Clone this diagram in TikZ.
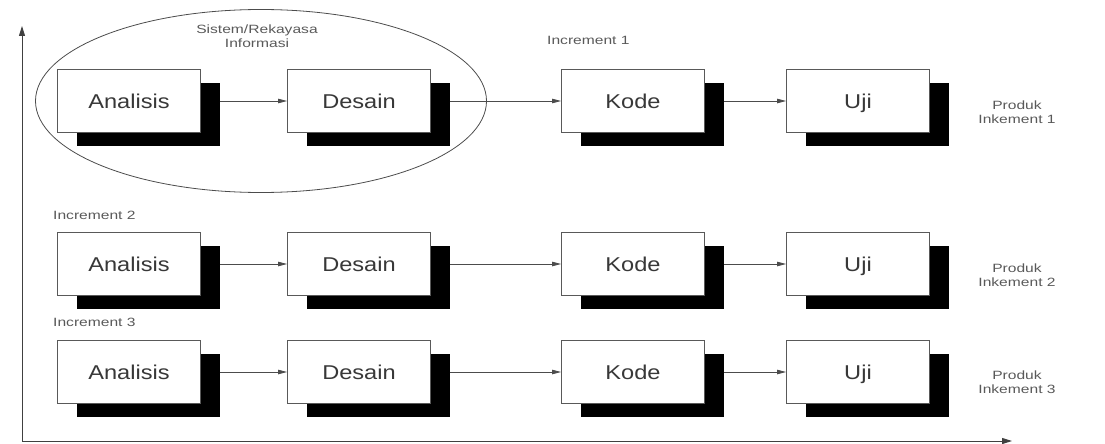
\documentclass[tikz,border=0pt]{standalone}
\usepackage{fontspec}
\setmainfont{Liberation Sans}
\newfontfamily\boxfont[FakeStretch=1.18]{Liberation Sans}
\newfontfamily\notefont[FakeStretch=1.3]{Liberation Sans}
\usetikzlibrary{arrows.meta,shadows,shapes.geometric}
\begin{document}
\begin{tikzpicture}[x=1pt,y=-1pt,
  stagebox/.style={draw=black!65,line width=0.9pt,fill=white,
    minimum width=143pt,minimum height=63pt,inner sep=0pt,
    text height=14.5pt,text depth=0pt,
    font=\boxfont\fontsize{20}{22}\selectfont,text=black!78,
    drop shadow={shadow xshift=19pt,shadow yshift=-13pt,fill=black,opacity=1}},
  smalltext/.style={font=\notefont\fontsize{12}{13.5}\selectfont,text=black!65,align=center,inner sep=0pt},
  flow/.style={draw=black!70,line width=0.8pt,-{Triangle[length=9pt,width=4.5pt]}},
  axis/.style={draw=black!75,line width=1pt,-{Triangle[length=10pt,width=6pt]}}]
\useasboundingbox (0,0) rectangle (1105,444);

% axes
\coordinate (origin) at (22,441);
\coordinate (ytop) at (22,26);
\coordinate (xend) at (1012,441);
\draw[axis] (origin) -- (ytop);
\draw[axis] (origin) -- (xend);

% system/information engineering region
\node[draw=black!70,line width=0.8pt,ellipse,minimum width=451pt,minimum height=183pt,inner sep=0pt] (sys) at (261,101) {};
\node[smalltext] (syslabel) at (257,36) {Sistem/Rekayasa\\Informasi};

% increment labels
\node[smalltext,anchor=west] (inc1) at (547,40) {Increment 1};
\node[smalltext,anchor=west] (inc2) at (53,215) {Increment 2};
\node[smalltext,anchor=west] (inc3) at (53,322) {Increment 3};

% stages of each increment
\foreach \r/\y in {1/101,2/264,3/372}{
  \node[stagebox] (a\r) at (129,\y) {Analisis};
  \node[stagebox] (d\r) at (359,\y) {Desain};
  \node[stagebox] (k\r) at (633,\y) {Kode};
  \node[stagebox] (u\r) at (858,\y) {Uji};
  \draw[flow] ([xshift=19pt]a\r.east) -- (d\r.west);
  \draw[flow] ([xshift=19pt]d\r.east) -- (k\r.west);
  \draw[flow] ([xshift=19pt]k\r.east) -- (u\r.west);
}

% products
\node[smalltext] (p1) at (1017,112) {Produk\\Inkement 1};
\node[smalltext] (p2) at (1017,275) {Produk\\Inkement 2};
\node[smalltext] (p3) at (1017,382) {Produk\\Inkement 3};
\end{tikzpicture}
\end{document}
